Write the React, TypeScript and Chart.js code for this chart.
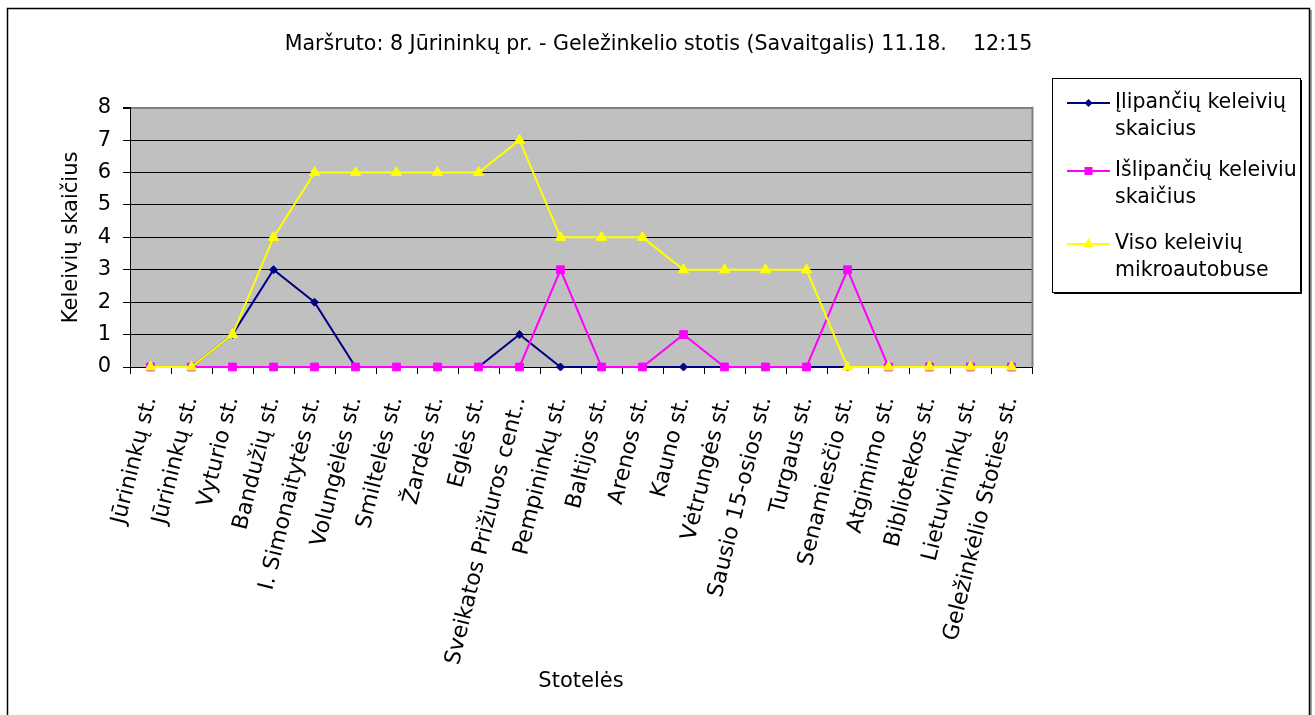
import React, { useEffect, useRef } from 'react';
import { Chart, registerables } from 'chart.js';

Chart.register(...registerables);

const FONT = 'DejaVu Sans';

const titleText = 'Maršruto: 8 Jūrininkų pr. - Geležinkelio stotis (Savaitgalis) 11.18.    12:15';
const yAxisTitle = 'Keleivių skaičius';
const xAxisTitle = 'Stotelės';

const categories = [
  'Jūrininkų st.',
  'Jūrininkų st.',
  'Vyturio st.',
  'Bandužių st.',
  'I. Simonaitytės st.',
  'Volungėlės st.',
  'Smiltelės st.',
  'Žardės st.',
  'Eglės st.',
  'Sveikatos Prižiuros cent..',
  'Pempininkų st.',
  'Baltijos st.',
  'Arenos st.',
  'Kauno st.',
  'Vėtrungės st.',
  'Sausio 15-osios st.',
  'Turgaus st.',
  'Senamiesčio st.',
  'Atgimimo st.',
  'Bibliotekos st.',
  'Lietuvininkų st.',
  'Geležinkėlio Stoties st.',
];

const ilipanciu = [0, 0, 1, 3, 2, 0, 0, 0, 0, 1, 0, 0, 0, 0, 0, 0, 0, 0, 0, 0, 0, 0];
const islipanciu = [0, 0, 0, 0, 0, 0, 0, 0, 0, 0, 3, 0, 0, 1, 0, 0, 0, 3, 0, 0, 0, 0];
const viso = [0, 0, 1, 4, 6, 6, 6, 6, 6, 7, 4, 4, 4, 3, 3, 3, 3, 0, 0, 0, 0, 0];

const seriesNames = [
  ['Įlipančių keleivių', 'skaicius'],
  ['Išlipančių keleiviu', 'skaičius'],
  ['Viso keleivių', 'mikroautobuse'],
];
const seriesColors = ['#000080', '#FF00FF', '#FFFF00'];
const seriesMarkers = ['rectRot', 'rect', 'triangle'];
const seriesRadius = [4, 5.5, 6];

const yMin = 0;
const yMax = 8;
const yStep = 1;

function drawMarker(ctx: CanvasRenderingContext2D, style: string, x: number, y: number, color: string) {
  ctx.save();
  ctx.fillStyle = color;
  ctx.beginPath();
  if (style === 'rectRot') {
    const r = 4;
    ctx.moveTo(x, y - r);
    ctx.lineTo(x + r, y);
    ctx.lineTo(x, y + r);
    ctx.lineTo(x - r, y);
  } else if (style === 'rect') {
    ctx.rect(x - 4, y - 4, 8, 8);
  } else {
    const r = 6;
    ctx.moveTo(x, y - r);
    ctx.lineTo(x + r * 0.866, y + r * 0.5);
    ctx.lineTo(x - r * 0.866, y + r * 0.5);
  }
  ctx.closePath();
  ctx.fill();
  ctx.restore();
}

const framePlugin = {
  id: 'frame',
  beforeDraw(chart: any) {
    const { ctx, chartArea } = chart;
    ctx.save();
    ctx.fillStyle = '#C0C0C0';
    ctx.fillRect(chartArea.left, chartArea.top, chartArea.right - chartArea.left, chartArea.bottom - chartArea.top);
    ctx.restore();
  },
  afterDraw(chart: any) {
    const { ctx, chartArea } = chart;
    ctx.save();
    // right plot border (gray)
    ctx.strokeStyle = '#808080';
    ctx.lineWidth = 2;
    ctx.beginPath();
    ctx.moveTo(chartArea.right + 0.5, chartArea.top - 1);
    ctx.lineTo(chartArea.right + 0.5, chartArea.bottom);
    ctx.stroke();

    // outer chart border
    ctx.strokeStyle = '#000';
    ctx.lineWidth = 1.5;
    ctx.beginPath();
    ctx.moveTo(7.5, 740);
    ctx.lineTo(7.5, 8.5);
    ctx.lineTo(1309.5, 8.5);
    ctx.lineTo(1309.5, 740);
    ctx.stroke();
    ctx.lineWidth = 1;
    ctx.strokeStyle = '#404040';
    ctx.beginPath();
    ctx.moveTo(1311, 10);
    ctx.lineTo(1311, 740);
    ctx.stroke();

    // legend
    const lx = 1052;
    const ly = 78;
    const lw = 248;
    const lh = 214;
    ctx.fillStyle = '#FFFFFF';
    ctx.fillRect(lx, ly, lw, lh);
    ctx.strokeStyle = '#000';
    ctx.lineWidth = 1;
    ctx.strokeRect(lx + 0.5, ly + 0.5, lw, lh);
    ctx.beginPath();
    ctx.moveTo(lx + lw + 1.5, ly + 2);
    ctx.lineTo(lx + lw + 1.5, ly + lh + 1.5);
    ctx.lineTo(lx + 2, ly + lh + 1.5);
    ctx.stroke();

    const itemY = [103, 171, 244];
    chart.data.datasets.forEach((ds: any, i: number) => {
      const y = itemY[i];
      ctx.strokeStyle = ds.borderColor;
      ctx.lineWidth = 2;
      ctx.beginPath();
      ctx.moveTo(1067, y);
      ctx.lineTo(1110, y);
      ctx.stroke();
      drawMarker(ctx, ds.pointStyle, 1088.5, y, ds.borderColor);
      ctx.fillStyle = '#000';
      ctx.font = `20.5px "${FONT}"`;
      ctx.textAlign = 'left';
      ctx.textBaseline = 'middle';
      seriesNames[i].forEach((line, j) => {
        ctx.fillText(line, 1115, y + j * 27);
      });
    });
    ctx.restore();
  },
};

export default function App() {
  const canvasRef = useRef<HTMLCanvasElement | null>(null);

  useEffect(() => {
    const canvas = canvasRef.current;
    if (!canvas) return;
    const seriesData = [ilipanciu, islipanciu, viso];
    const chart = new Chart(canvas, {
      type: 'line',
      data: {
        labels: categories,
        datasets: seriesData.map((d, i) => ({
          label: seriesNames[i].join(' '),
          data: d,
          borderColor: seriesColors[i],
          backgroundColor: seriesColors[i],
          pointBackgroundColor: seriesColors[i],
          pointBorderColor: seriesColors[i],
          borderWidth: 2,
          pointStyle: seriesMarkers[i] as any,
          pointRadius: seriesRadius[i],
          pointBorderWidth: 1,
          tension: 0,
          fill: false,
          clip: false as any,
          order: 3 - i,
        })),
      },
      options: {
        responsive: false,
        animation: false,
        devicePixelRatio: 1,
        layout: { padding: { top: 8, left: 8, right: 6, bottom: 0 } },
        plugins: {
          legend: { display: false },
          tooltip: { enabled: false },
          title: {
            display: true,
            text: titleText,
            color: '#000',
            font: { family: FONT, size: 20.6, weight: 'normal' as any },
            padding: { top: 24, bottom: 51 },
          },
        },
        scales: {
          x: {
            type: 'category',
            offset: true,
            grid: {
              display: true,
              drawOnChartArea: false,
              drawTicks: true,
              tickLength: 7,
              tickColor: '#000',
              offset: true,
            },
            border: { display: true, color: '#000', width: 1 },
            ticks: {
              autoSkip: false,
              minRotation: 76,
              maxRotation: 76,
              padding: 20,
              color: '#000',
              font: { family: FONT, size: 22 },
            },
            title: {
              display: true,
              text: xAxisTitle,
              color: '#000',
              font: { family: FONT, size: 21 },
              padding: { top: 0, bottom: 21 },
            },
            afterFit: (s: any) => {
              s.height = 348;
            },
          },
          y: {
            type: 'linear',
            min: yMin,
            max: yMax,
            ticks: {
              stepSize: yStep,
              padding: 12,
              color: '#000',
              font: { family: FONT, size: 21 },
            },
            grid: {
              color: (c: any) => (c.tick && c.tick.value === yMax ? '#808080' : '#000'),
              lineWidth: (c: any) => (c.tick && c.tick.value === yMax ? 2 : 1),
              tickLength: 7,
              tickColor: '#000',
            },
            border: { display: true, color: '#000', width: 1 },
            title: {
              display: true,
              text: yAxisTitle,
              color: '#000',
              font: { family: FONT, size: 21 },
              padding: { top: 51, bottom: 0 },
            },
            afterFit: (s: any) => {
              s.width = 122;
            },
          },
          yR: {
            type: 'linear',
            position: 'right',
            display: true,
            grid: { display: false, drawTicks: false },
            ticks: { display: false },
            border: { display: false },
            afterFit: (s: any) => {
              s.width = 277;
            },
          },
        },
      },
      plugins: [framePlugin],
    });
    return () => chart.destroy();
  }, []);

  return (
    <div style={{ position: 'fixed', left: 0, top: 0, width: 1315, height: 715, background: '#fff' }}>
      <canvas ref={canvasRef} width={1315} height={715} style={{ display: 'block' }} />
    </div>
  );
}
